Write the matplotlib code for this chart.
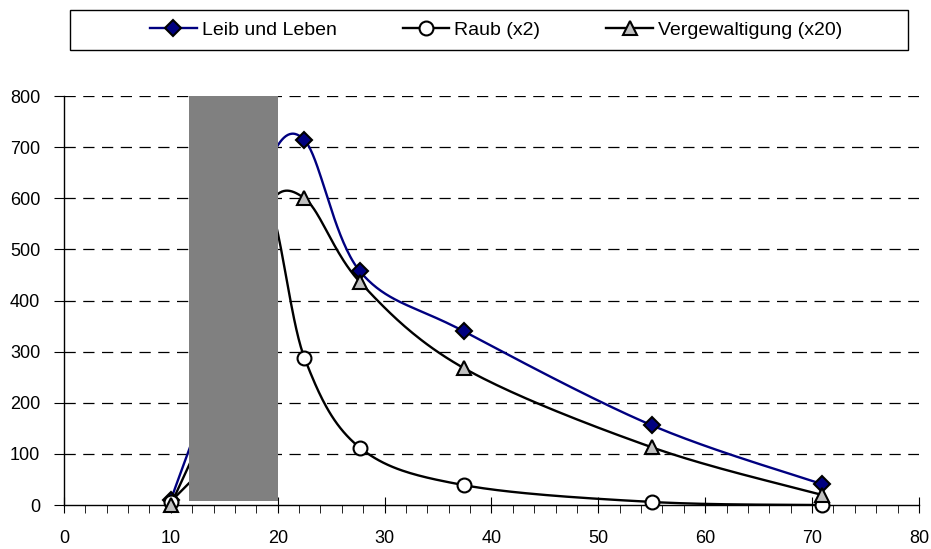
import numpy as np
import matplotlib.pyplot as plt
from matplotlib import font_manager
from matplotlib.patches import Rectangle

# age (x) positions of the groups; the two middle ones sit behind the grey block
ages = [10, 15.5, 18.8, 22.5, 27.7, 37.4, 55, 70.9]
leib = [10, 340, 650, 714, 457, 340, 156, 41]
raub = [5, 170, 590, 288, 112, 39, 6, 0]
verg = [0, 270, 570, 600, 436, 268, 113, 20]

series_names = ["Leib und Leben", "Raub (x2)", "Vergewaltigung (x20)"]
x_ticks = list(range(0, 81, 10))
y_ticks = list(range(0, 801, 100))

names = set(f.name for f in font_manager.fontManager.ttflist)
narrow = "Liberation Sans Narrow" if "Liberation Sans Narrow" in names else "Liberation Sans"
plt.rcParams['font.family'] = ['Liberation Sans', 'DejaVu Sans']


def smooth(xs, ys, sx, sy, n=40):
    # excel-like bezier smoothing, done in pixel-like units
    p = np.column_stack([np.array(xs) * sx, np.array(ys) * sy])
    pts = []
    for i in range(len(p) - 1):
        p0 = p[i - 1] if i > 0 else p[i]
        p1 = p[i]
        p2 = p[i + 1]
        p3 = p[i + 2] if i + 2 < len(p) else p[i + 1]
        c1 = p1 + (p2 - p0) / 6
        c2 = p2 - (p3 - p1) / 6
        t = np.linspace(0, 1, n)[:, None]
        seg = (1 - t) ** 3 * p1 + 3 * (1 - t) ** 2 * t * c1 + 3 * (1 - t) * t ** 2 * c2 + t ** 3 * p2
        pts.append(seg)
    pts = np.vstack(pts)
    return pts[:, 0] / sx, pts[:, 1] / sy


fig = plt.figure(figsize=(9.31, 5.49), dpi=100)
ax = fig.add_axes([0.0687, 0.0801, 0.9183, 0.745])
ax.set_xlim(0, 80)
ax.set_ylim(0, 800)

sx, sy = 10.69, 0.511
styles = [
    dict(color="#000080", marker="D", mfc="#000080", ms=8.5),
    dict(color="black", marker="o", mfc="white", ms=10),
    dict(color="black", marker="^", mfc="#C0C0C0", ms=10),
]
handles = []
for vals, name, st in zip([leib, raub, verg], series_names, styles):
    xx, yy = smooth(ages, vals, sx, sy)
    ax.plot(xx, yy, color=st["color"], lw=1.7, zorder=3)
    ax.plot(ages, vals, ls="none", marker=st["marker"], mfc=st["mfc"], mec="black",
            mew=1.5, ms=st["ms"], zorder=4, clip_on=False)
    h, = ax.plot([], [], color=st["color"], lw=1.7, marker=st["marker"], mfc=st["mfc"],
                 mec="black", mew=1.5, ms=st["ms"], label=name)
    handles.append(h)

ax.add_patch(Rectangle((11.7, 8), 8.3, 798, facecolor="#808080", edgecolor="none", zorder=5))

for y in y_ticks[1:]:
    ax.axhline(y, color="black", lw=0.9, ls=(0, (9, 6)), zorder=1)

ax.spines["top"].set_visible(False)
ax.spines["right"].set_visible(False)
ax.spines["left"].set_linewidth(1)
ax.spines["bottom"].set_linewidth(1)
ax.set_xticks(x_ticks)
ax.set_xticks(range(0, 81, 2), minor=True)
ax.set_yticks(y_ticks)
ax.tick_params(axis="x", which="major", direction="inout", length=12, labelsize=13, pad=12)
ax.tick_params(axis="x", which="minor", direction="out", length=6)
ax.tick_params(axis="y", direction="out", length=7, labelsize=13, pad=10)

# legend frame spans the whole top, entries centred inside it
fig.patches.append(Rectangle((70 / 931, 1 - 50 / 549), 838 / 931, 40 / 549, transform=fig.transFigure,
                             facecolor="white", edgecolor="black", lw=1))
leg = fig.legend(handles=handles, loc="center", bbox_to_anchor=(496 / 931, 1 - 30 / 549),
                 ncol=3, frameon=False, prop={"family": narrow, "size": 16.5 if narrow != "Liberation Sans" else 14},
                 handlelength=2.4, handletextpad=0.25, columnspacing=3.4, borderaxespad=0)

fig.savefig("out.png", dpi=100)
